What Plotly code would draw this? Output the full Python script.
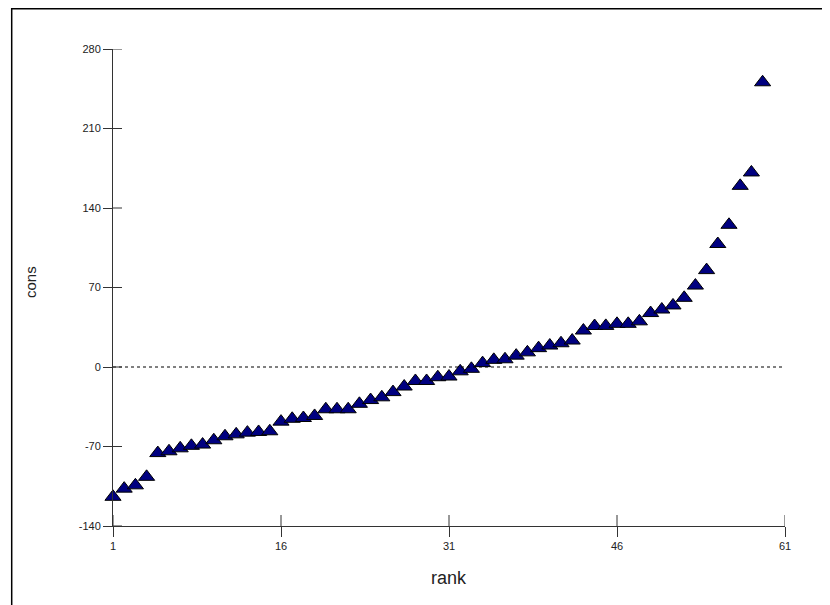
import plotly.graph_objects as go

rank = list(range(1, 60))
cons = [-114.3, -107.1, -104.2, -96.7, -75.8, -74.2, -71.6, -69.4, -68.3, -64.5,
        -61.0, -59.3, -57.8, -57.2, -56.6, -48.1, -45.6, -44.9, -43.1, -37.2,
        -37.2, -37.2, -32.4, -29.1, -26.7, -22.1, -17.2, -12.3, -12.3, -9.0,
        -8.4, -3.8, -1.6, 3.4, 6.3, 6.8, 10.0, 12.9, 16.6, 18.9,
        20.9, 23.3, 32.1, 36.1, 36.2, 38.0, 38.0, 40.2, 47.5, 50.6,
        54.2, 60.9, 71.7, 85.3, 108.3, 125.2, 159.5, 171.3, 250.7]

x_ticks = [1, 16, 31, 46, 61]
y_ticks = [-140, -70, 0, 70, 140, 210, 280]

# page has an 8px body margin, so the figure is drawn 8px in from the window edge
OFF = 8
W, H = 830 - OFF, 605 - OFF
ml, mr, mt, mb = 105, 45, 41, 79
pw, ph = W - ml - mr, H - mt - mb

tick_font = dict(family="Liberation Sans Narrow, Liberation Sans, Arial", size=11, color="#222222")

fig = go.Figure()
fig.add_trace(go.Scatter(
    x=rank, y=cons, mode="markers",
    marker=dict(symbol="triangle-up", size=14, color="#000080",
                line=dict(color="black", width=1)),
    showlegend=False, cliponaxis=False,
))

shapes = []
# dashed zero line
shapes.append(dict(type="line", xref="paper", yref="y", x0=0, x1=1, y0=0, y1=0,
                   line=dict(color="black", width=1, dash="3px,3px")))
# inner parts of crossing ticks
for t in x_ticks:
    shapes.append(dict(type="line", xref="x", yref="paper", x0=t, x1=t, y0=0, y1=11 / ph,
                       line=dict(color="#333333", width=1)))
for t in y_ticks:
    shapes.append(dict(type="line", xref="paper", yref="y", x0=0, x1=9 / pw, y0=t, y1=t,
                       line=dict(color="#333333", width=1)))
# outer frame (left, top, right), in figure pixel terms
fl = (11.7 - OFF - ml) / pw
fr = (828 - OFF - ml) / pw
ft = (H - mb - 0.8) / ph
fb = (H - mb - 620) / ph
shapes.append(dict(type="path", xref="paper", yref="paper",
                   path=f"M {fl},{fb} L {fl},{ft} L {fr},{ft} L {fr},{fb}",
                   line=dict(color="black", width=1.5)))

fig.update_layout(
    width=W, height=H,
    margin=dict(l=ml, r=mr, t=mt, b=mb, pad=0),
    paper_bgcolor="white", plot_bgcolor="white",
    shapes=shapes,
    xaxis=dict(range=[1, 61], tickvals=x_ticks, ticktext=[str(t) for t in x_ticks],
               showgrid=False, zeroline=False, showline=True, linecolor="#333333", linewidth=1,
               ticks="outside", ticklen=10, tickcolor="#333333", tickfont=tick_font),
    yaxis=dict(range=[-140, 280], tickvals=y_ticks, ticktext=[str(t) for t in y_ticks],
               showgrid=False, zeroline=False, showline=True, linecolor="#333333", linewidth=1,
               ticks="outside", ticklen=9, tickcolor="#333333", tickfont=tick_font),
    annotations=[
        dict(text="cons", textangle=-90, xref="paper", yref="paper",
             x=(30 - OFF - ml) / pw, y=(H - mb - (282 - OFF)) / ph, showarrow=False,
             xanchor="center", yanchor="middle",
             font=dict(family="Liberation Sans, Arial", size=15, color="#222222")),
        dict(text="rank", xref="paper", yref="paper",
             x=0.5, y=(H - mb - (578 - OFF)) / ph, showarrow=False,
             xanchor="center", yanchor="middle",
             font=dict(family="Liberation Sans Narrow, Liberation Sans, Arial", size=18, color="#222222")),
    ],
)

fig.write_html("out.html")
